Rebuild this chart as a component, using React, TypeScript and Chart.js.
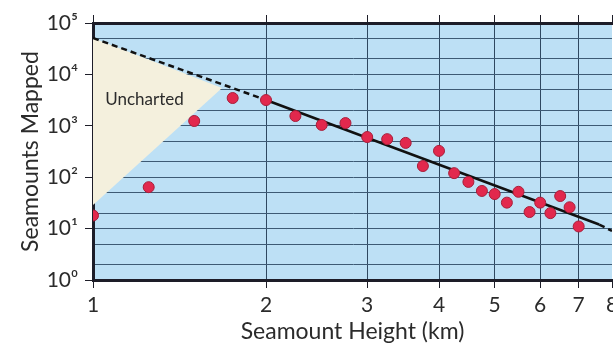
import React, { useEffect, useRef } from "react";
import { Chart, registerables } from "chart.js";

Chart.register(...registerables);

// Seamount height (km) and number mapped
const heights = [1, 1.25, 1.5, 1.75, 2, 2.25, 2.5, 2.75, 3, 3.25, 3.5, 3.75, 4, 4.25, 4.5, 4.75, 5, 5.25, 5.5, 5.75, 6, 6.25, 6.5, 6.75, 7];
const counts = [18, 64, 1240, 3470, 3170, 1550, 1040, 1130, 605, 550, 465, 165, 325, 120, 81, 54, 47, 32, 52, 21, 32, 20, 43, 26, 11];

// Fitted power law (dashed where extrapolated)
const fitX = [1, 2, 7.6, 8];
const fitY = [51000, 3170, 12, 9];

// "Uncharted" region boundaries
const unchartedX = [1, 1.677];
const unchartedTop = [51000, 5430];
const unchartedBottom = [28.8, 5430];
const unchartedLabel = "Uncharted";
const unchartedLabelPos = { x: 1.05, y: 3200 };

const xTicks = [1, 2, 3, 4, 5, 6, 7, 8];
const yGrid = [1, 2, 5, 10, 20, 50, 100, 200, 500, 1000, 2000, 5000, 10000, 20000, 50000, 100000];
const supers: Record<string, string> = { "0": "⁰", "1": "¹", "2": "²", "3": "³", "4": "⁴", "5": "⁵" };

const FONT = "Lato, 'DejaVu Sans', sans-serif";
const TEXT = "#2b2b2b";
const DARK = "#1d1d28";

export default function App() {
  const ref = useRef<HTMLCanvasElement | null>(null);
  useEffect(() => {
    const canvas = ref.current!;
    const isPow10 = (v: number) => Math.abs(Math.log10(v) - Math.round(Math.log10(v))) < 1e-9;
    const bgPlugin = {
      id: "bg",
      beforeDraw(chart: any) {
        const { ctx, chartArea: a } = chart;
        ctx.save();
        ctx.fillStyle = "#bde0f5";
        ctx.fillRect(a.left, a.top, a.right - a.left, a.bottom - a.top);
        ctx.restore();
      },
      afterDatasetsDraw(chart: any) {
        const { ctx, scales } = chart;
        ctx.save();
        ctx.fillStyle = "#2b2b2b";
        ctx.font = "17px " + FONT;
        ctx.textAlign = "left";
        ctx.textBaseline = "middle";
        ctx.fillText(unchartedLabel, scales.x.getPixelForValue(unchartedLabelPos.x), scales.y.getPixelForValue(unchartedLabelPos.y));
        ctx.restore();
      },
    };
    const chart = new Chart(canvas, {
      type: "scatter",
      data: {
        datasets: [
          {
            data: unchartedX.map((x, i) => ({ x, y: unchartedTop[i] })),
            showLine: true,
            borderWidth: 0,
            pointRadius: 0,
            fill: false,
            order: 5,
          } as any,
          {
            data: unchartedX.map((x, i) => ({ x, y: unchartedBottom[i] })),
            showLine: true,
            borderWidth: 0,
            pointRadius: 0,
            fill: "-1",
            backgroundColor: "#f4f0dd",
            order: 4,
          },
          {
            data: fitX.map((x, i) => ({ x, y: fitY[i] })),
            showLine: true,
            borderColor: "#111",
            borderWidth: 2.5,
            pointRadius: 0,
            fill: false,
            order: 2,
            segment: {
              borderDash: (c: any) => (c.p0DataIndex === 1 ? [] : [6, 4]),
            },
          },
          {
            data: heights.map((x, i) => ({ x, y: counts[i] })),
            pointRadius: 5.5,
            pointBackgroundColor: "#e2284d",
            pointBorderColor: "#a81e3a",
            pointBorderWidth: 1,
            order: 1,
          },
        ],
      },
      options: {
        animation: false,
        responsive: false,
        layout: { padding: { top: 15, left: 0, right: 28, bottom: 0 } },
        plugins: { legend: { display: false }, tooltip: { enabled: false } },
        scales: {
          x: {
            type: "logarithmic",
            position: "bottom",
            min: 1,
            max: 8,
            afterBuildTicks: (s: any) => {
              s.ticks = xTicks.map((v) => ({ value: v }));
            },
            afterFit: (s: any) => {
              s.height = 65;
            },
            ticks: {
              callback: (v: any) => String(v),
              font: { size: 21, family: FONT },
              color: TEXT,
              padding: 5,
              maxRotation: 0,
              autoSkip: false,
            },
            grid: {
              color: (c: any) => (c.tick && c.tick.value === 8 ? "rgba(0,0,0,0)" : "#2f4860"),
              lineWidth: 1,
              tickLength: 8,
              tickColor: DARK,
            },
            border: { display: true, width: 3, color: DARK },
            title: {
              display: true,
              text: "Seamount Height (km)",
              font: { size: 23, family: FONT },
              color: TEXT,
              padding: { top: 0, bottom: 0 },
            },
          },
          x2: {
            type: "logarithmic",
            position: "top",
            min: 1,
            max: 8,
            afterBuildTicks: (s: any) => {
              s.ticks = xTicks.map((v) => ({ value: v }));
            },
            afterFit: (s: any) => {
              s.height = 8;
            },
            ticks: { display: false },
            grid: { drawOnChartArea: false, tickLength: 8, tickColor: DARK, color: DARK },
            border: { display: true, width: 3, color: DARK },
          },
          y: {
            type: "logarithmic",
            min: 1,
            max: 100000,
            afterBuildTicks: (s: any) => {
              s.ticks = yGrid.map((v) => ({ value: v }));
            },
            afterFit: (s: any) => {
              s.width = 93;
            },
            ticks: {
              callback: (v: any) => {
                const n = Number(v);
                if (!isPow10(n)) return "";
                return "10" + supers[String(Math.round(Math.log10(n)))];
              },
              font: { size: 21, family: FONT },
              color: TEXT,
              padding: 7,
              autoSkip: false,
            },
            grid: {
              color: "#3d5a74",
              lineWidth: 1,
              tickLength: 8,
              tickColor: (c: any) => (c.tick && isPow10(c.tick.value) ? DARK : "rgba(0,0,0,0)"),
            },
            border: { display: true, width: 3, color: DARK },
            title: {
              display: true,
              text: "Seamounts Mapped",
              font: { size: 23, family: FONT },
              color: TEXT,
              padding: { top: 17, bottom: 0 },
            },
          },
        },
      },
      plugins: [bgPlugin],
    } as any);
    return () => chart.destroy();
  }, []);
  return (
    <div style={{ position: "fixed", left: 0, top: 0, width: 640, height: 345, overflow: "hidden", background: "#fff" }}>
      <canvas ref={ref} width={640} height={345} />
    </div>
  );
}
